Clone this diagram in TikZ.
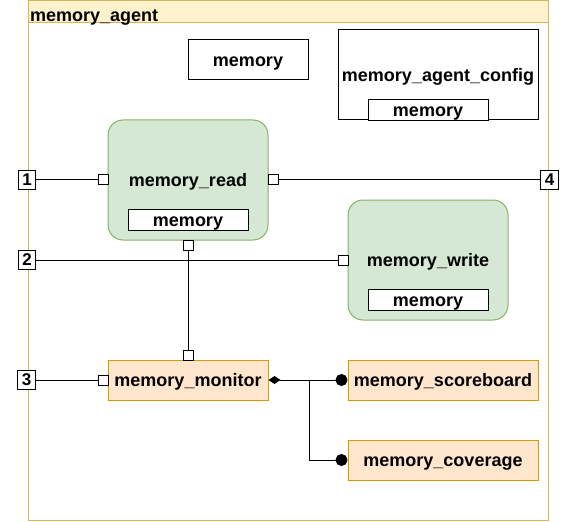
\documentclass[tikz,border=0pt]{standalone}
\usepackage{fontspec}
\setmainfont{Liberation Sans}
\usetikzlibrary{arrows.meta}
\definecolor{gfill}{HTML}{D5E8D4}
\definecolor{gline}{HTML}{82B366}
\definecolor{ofill}{HTML}{FFE6CC}
\definecolor{oline}{HTML}{D79B00}
\definecolor{yfill}{HTML}{FFF2CC}
\definecolor{yline}{HTML}{D6B656}
\tikzset{
  lbl/.style={font=\bfseries\fontsize{18}{20}\selectfont, text height=16.3pt, text depth=3.8pt},
  box/.style={draw=black, fill=white, line width=1pt, inner sep=0pt},
  membox/.style={box, minimum width=120pt, minimum height=20pt, lbl},
  greenbox/.style={draw=gline, fill=gfill, line width=1pt, rounded corners=15pt, minimum width=160pt, minimum height=120pt, inner sep=0pt, lbl},
  orangebox/.style={draw=oline, fill=ofill, line width=1pt, minimum height=40pt, inner sep=0pt, lbl},
  portbox/.style={draw=black, fill=white, line width=1pt, minimum size=10pt, inner sep=0pt},
  numbox/.style={draw=black, fill=white, line width=1pt, minimum size=17.5pt, inner sep=0pt, font=\bfseries\fontsize{17}{18}\selectfont, text height=15.2pt, text depth=3.4pt},
  wire/.style={draw=black, line width=1pt},
}
\begin{document}
\begin{tikzpicture}[x=1pt, y=-1pt]
\useasboundingbox (0,0) rectangle (577,521);
% container
\path[draw=yline, fill=white, line width=1pt] (28,0.5) rectangle (548,520);
\path[draw=yline, fill=yfill, line width=1pt] (28,0.5) rectangle (548,22.5);
\node[font=\bfseries\fontsize{18}{20}\selectfont, anchor=base west, inner sep=0pt] (title) at (30,21.5) {memory\_agent};
% top boxes
\node[box, minimum width=120pt, minimum height=40pt, lbl] (mem) at (248,60) {memory};
\node[box, minimum width=200pt, minimum height=90pt, lbl] (cfg) at (438,75) {memory\_agent\_config};
\node[membox] (cfgmem) at (428,110) {memory};
% main boxes
\node[greenbox] (rd) at (188,180) {memory\_read};
\node[membox] (rdmem) at (188,220) {memory};
\node[greenbox] (wr) at (428,260) {memory\_write};
\node[membox] (wrmem) at (428,300) {memory};
\node[orangebox, minimum width=160pt] (mon) at (188,380) {memory\_monitor};
\node[orangebox, minimum width=190pt] (sb) at (443,380) {memory\_scoreboard};
\node[orangebox, minimum width=190pt] (cov) at (443,460) {memory\_coverage};
% number boxes
\node[numbox] (n1) at (27,180) {1};
\node[numbox] (n2) at (27,260) {2};
\node[numbox] (n3) at (26.5,380) {3};
\node[numbox] (n4) at (549.5,180) {4};
% ports
\node[portbox] (rdl) at (103,180) {};
\node[portbox] (rdr) at (273,180) {};
\node[portbox] (rdb) at (188,245) {};
\node[portbox] (wrl) at (343,260) {};
\node[portbox] (mont) at (188,355) {};
\node[portbox] (monl) at (103,380) {};
\coordinate (j) at (309,380);
% wires
\draw[wire] (n1) -- (rdl);
\draw[wire] (rdr) -- (n4);
\draw[wire] (n2) -- (wrl);
\draw[wire] (rdb) -- (mont);
\draw[wire] (n3) -- (monl);
\draw[wire, {Diamond[length=12pt, width=8pt]}-{Circle[length=12pt]}] (mon.east) -- (sb.west);
\draw[wire, -{Circle[length=12pt]}] (j) |- (cov.west);
\end{tikzpicture}
\end{document}
